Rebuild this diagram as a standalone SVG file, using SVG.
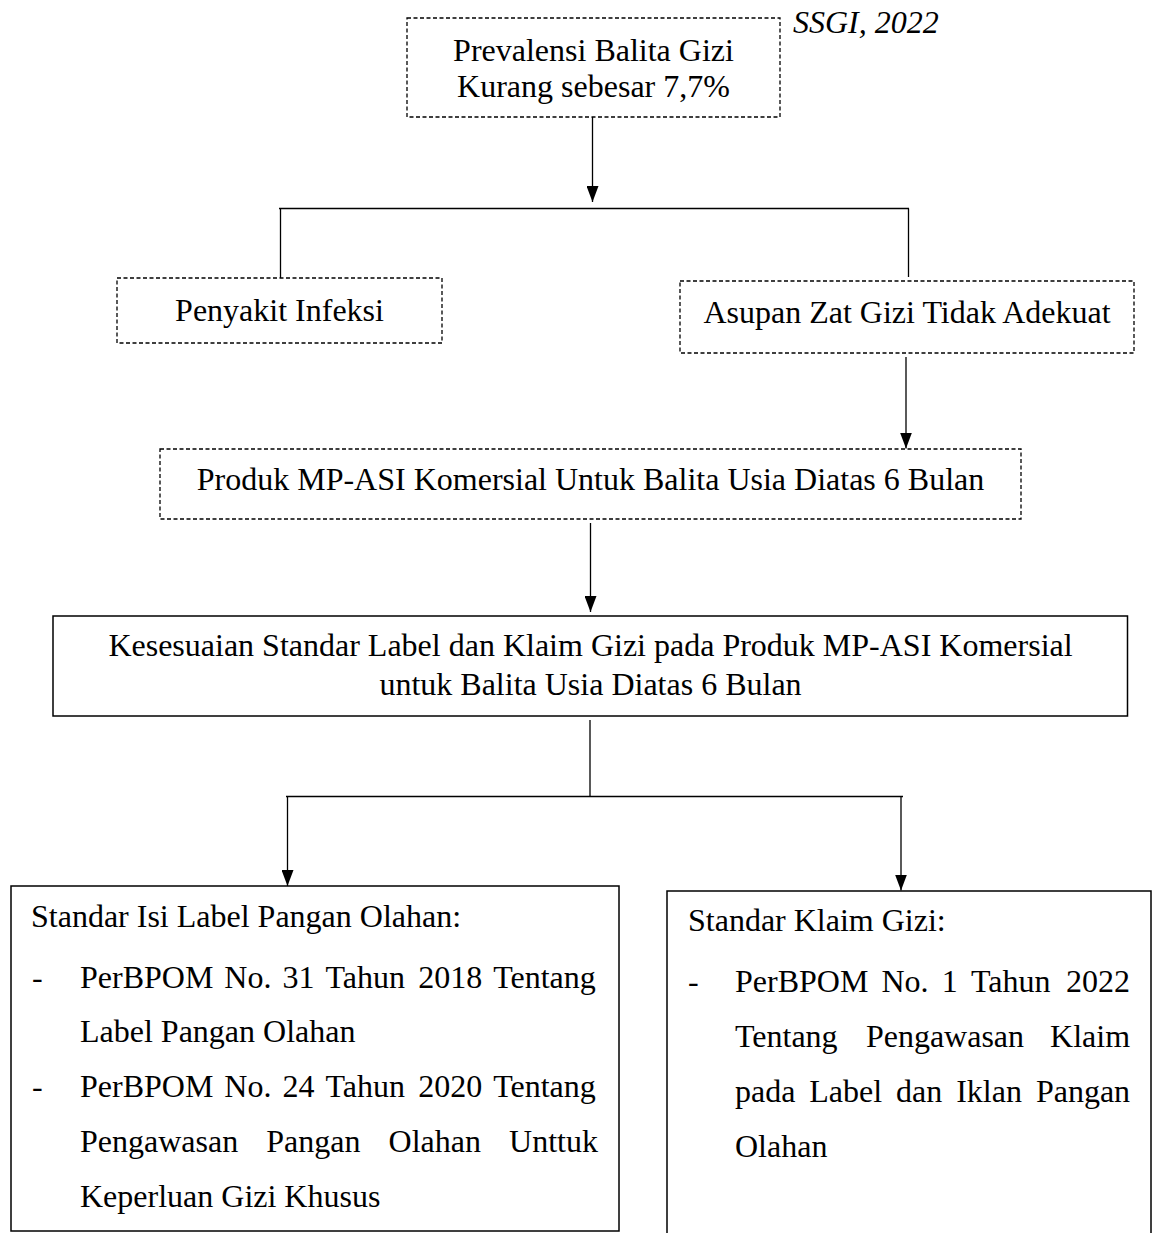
<svg xmlns="http://www.w3.org/2000/svg" width="1154" height="1233" viewBox="0 0 1154 1233">
<style>
  text { font-family: "Liberation Serif", "Times New Roman", serif; font-size: 32px; fill: #000; }
  .c { text-anchor: middle; }
  .dash { fill: #fff; stroke: #000; stroke-width: 1.3; stroke-dasharray: 4 2.5; }
  .solid { fill: #fff; stroke: #000; stroke-width: 1.5; }
  .ln { stroke: #000; stroke-width: 1.3; fill: none; }
  .arr { stroke: #000; stroke-width: 1.3; fill: none; marker-end: url(#ah); }
</style>
<defs>
  <marker id="ah" markerUnits="userSpaceOnUse" markerWidth="16" markerHeight="12" refX="16" refY="6" orient="auto" viewBox="0 0 16 12">
    <path d="M0,0 L16,6 L0,12 Z" fill="#000"/>
  </marker>
</defs>
<rect width="1154" height="1233" fill="#fff"/>

<g id="connectors">
  <line class="arr" x1="592.5" y1="117" x2="592.5" y2="202"/>
  <line class="ln" x1="279" y1="208.5" x2="909" y2="208.5"/>
  <line class="ln" x1="280.5" y1="208.5" x2="280.5" y2="278"/>
  <line class="ln" x1="908.5" y1="208.5" x2="908.5" y2="277"/>
  <line class="arr" x1="906" y1="357" x2="906" y2="448.5"/>
  <line class="arr" x1="590.5" y1="523" x2="590.5" y2="612"/>
  <line class="ln" x1="590" y1="720" x2="590" y2="796.5"/>
  <line class="ln" x1="286" y1="796.5" x2="903" y2="796.5"/>
  <line class="arr" x1="287.5" y1="796.5" x2="287.5" y2="886"/>
  <line class="arr" x1="901" y1="796.5" x2="901" y2="890.5"/>
</g>

<g id="source">
  <text x="793" y="33" font-style="italic">SSGI, 2022</text>
</g>

<g id="prevalensi">
  <rect class="dash" x="407" y="18" width="373" height="99"/>
  <text class="c" x="593.5" y="61">Prevalensi Balita Gizi</text>
  <text class="c" x="593.5" y="97">Kurang sebesar 7,7%</text>
</g>

<g id="penyakit">
  <rect class="dash" x="117" y="278" width="325" height="65"/>
  <text class="c" x="279.5" y="321">Penyakit Infeksi</text>
</g>

<g id="asupan">
  <rect class="dash" x="680" y="281" width="454" height="72"/>
  <text class="c" x="907" y="323">Asupan Zat Gizi Tidak Adekuat</text>
</g>

<g id="produk">
  <rect class="dash" x="160" y="449" width="861" height="70"/>
  <text class="c" x="590.5" y="490">Produk MP-ASI Komersial Untuk Balita Usia Diatas 6 Bulan</text>
</g>

<g id="kesesuaian">
  <rect class="solid" x="53" y="616" width="1074.5" height="100"/>
  <text class="c" x="590.5" y="656">Kesesuaian Standar Label dan Klaim Gizi pada Produk MP-ASI Komersial</text>
  <text class="c" x="590.5" y="695">untuk Balita Usia Diatas 6 Bulan</text>
</g>

<g id="standar-isi">
  <rect class="solid" x="11" y="886" width="608" height="345"/>
  <text x="31" y="927">Standar Isi Label Pangan Olahan:</text>
  <text x="32" y="988">-</text>
  <text y="988"><tspan x="80">PerBPOM</tspan><tspan x="224.3">No.</tspan><tspan x="282.4">31</tspan><tspan x="325.4">Tahun</tspan><tspan x="418.2">2018</tspan><tspan x="493.2">Tentang</tspan></text>
  <text x="80" y="1042">Label Pangan Olahan</text>
  <text x="32" y="1097">-</text>
  <text y="1097"><tspan x="80">PerBPOM</tspan><tspan x="224.3">No.</tspan><tspan x="282.4">24</tspan><tspan x="325.4">Tahun</tspan><tspan x="418.2">2020</tspan><tspan x="493.2">Tentang</tspan></text>
  <text y="1152"><tspan x="80">Pengawasan</tspan><tspan x="266.3">Pangan</tspan><tspan x="388.6">Olahan</tspan><tspan x="509.1">Unttuk</tspan></text>
  <text x="80" y="1207">Keperluan Gizi Khusus</text>
</g>

<g id="standar-klaim">
  <rect class="solid" x="667" y="891" width="484" height="400"/>
  <text x="688" y="931">Standar Klaim Gizi:</text>
  <text x="688" y="992">-</text>
  <text y="992"><tspan x="735">PerBPOM</tspan><tspan x="881.5">No.</tspan><tspan x="941.8">1</tspan><tspan x="971">Tahun</tspan><tspan x="1066">2022</tspan></text>
  <text y="1047"><tspan x="735">Tentang</tspan><tspan x="865.9">Pengawasan</tspan><tspan x="1050.1">Klaim</tspan></text>
  <text y="1102"><tspan x="735">pada</tspan><tspan x="809.3">Label</tspan><tspan x="896.1">dan</tspan><tspan x="956.2">Iklan</tspan><tspan x="1035.9">Pangan</tspan></text>
  <text x="735" y="1157">Olahan</text>
</g>
</svg>
